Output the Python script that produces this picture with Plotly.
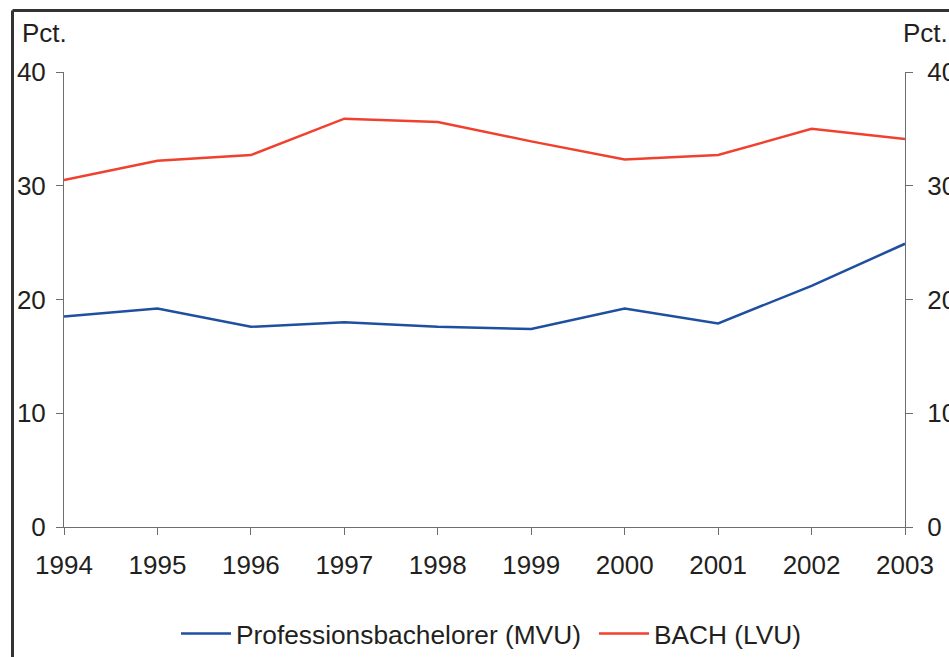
import plotly.graph_objects as go

years = [1994, 1995, 1996, 1997, 1998, 1999, 2000, 2001, 2002, 2003]
mvu = [18.5, 19.2, 17.6, 18.0, 17.6, 17.4, 19.2, 17.9, 21.2, 24.9]
lvu = [30.5, 32.2, 32.7, 35.9, 35.6, 33.9, 32.3, 32.7, 35.0, 34.1]
name_mvu = "Professionsbachelorer (MVU)"
name_lvu = "BACH (LVU)"
y_ticks = [0, 10, 20, 30, 40]
unit_label = "Pct."

W, H = 949, 657
L, R, T, B = 64, 44, 72, 130
pw, ph = W - L - R, H - T - B

FONT = "Liberation Sans, Arial, sans-serif"
FS = 26
TXT = "#231f20"
AX = "#6d6e71"

fig = go.Figure()
fig.add_trace(go.Scatter(x=years, y=mvu, name=name_mvu, mode="lines",
                         line=dict(color="#1f4fa0", width=2.5)))
fig.add_trace(go.Scatter(x=years, y=lvu, name=name_lvu, mode="lines",
                         line=dict(color="#f0412f", width=2.5)))
fig.add_trace(go.Scatter(x=years, y=lvu, yaxis="y2", mode="lines",
                         line=dict(width=0), showlegend=False, hoverinfo="skip"))

axis_common = dict(showgrid=False, zeroline=False, showline=True, linecolor=AX,
                   linewidth=1, ticks="outside", ticklen=7, tickcolor=AX, tickwidth=1,
                   automargin=False,
                   tickfont=dict(family=FONT, size=FS, color=TXT))

fig.update_layout(
    width=W, height=H,
    margin=dict(l=L, r=R, t=T, b=B, pad=0, autoexpand=False),
    paper_bgcolor="white", plot_bgcolor="white",
    font=dict(family=FONT, size=FS, color=TXT),
    xaxis=dict(range=[years[0], years[-1]], tickvals=years,
               ticktext=[str(y) for y in years], ticklabelstandoff=8, **axis_common),
    yaxis=dict(range=[0, 40], tickvals=y_ticks, ticklabelstandoff=5, **axis_common),
    yaxis2=dict(range=[0, 40], tickvals=y_ticks, overlaying="y", side="right",
                ticklabelstandoff=9, **axis_common),
    showlegend=True,
    legend=dict(orientation="h", x=(176 - L) / pw, xanchor="left", y=(T + ph - 634) / ph,
                yanchor="middle", font=dict(family=FONT, size=26.3, color=TXT),
                bgcolor="rgba(0,0,0,0)", itemwidth=50, entrywidth=353,
                entrywidthmode="pixels"),
)

# Pct. labels
fig.add_annotation(text=unit_label, xref="paper", yref="paper",
                   x=(20 - L) / pw, y=(T + ph - 33) / ph, xanchor="left", yanchor="middle",
                   showarrow=False, font=dict(family=FONT, size=FS, color=TXT))
fig.add_annotation(text=unit_label, xref="paper", yref="paper",
                   x=(901 - L) / pw, y=(T + ph - 33) / ph, xanchor="left", yanchor="middle",
                   showarrow=False, font=dict(family=FONT, size=FS, color=TXT))

# outer frame (left and top edges)
fx = (12.5 - L) / pw
fy = (T + ph - 10.5) / ph
fig.add_shape(type="line", xref="paper", yref="paper", x0=fx, x1=fx, y0=-1, y1=fy,
              line=dict(color="#333333", width=3))
fig.add_shape(type="line", xref="paper", yref="paper", x0=fx, x1=2, y0=fy, y1=fy,
              line=dict(color="#333333", width=3))

fig.write_html("out.html", config={"displayModeBar": False},
               post_script="document.body.style.margin='0';document.body.style.padding='0';"
                           "document.documentElement.style.overflow='hidden';"
                           "document.body.style.overflow='hidden';")
